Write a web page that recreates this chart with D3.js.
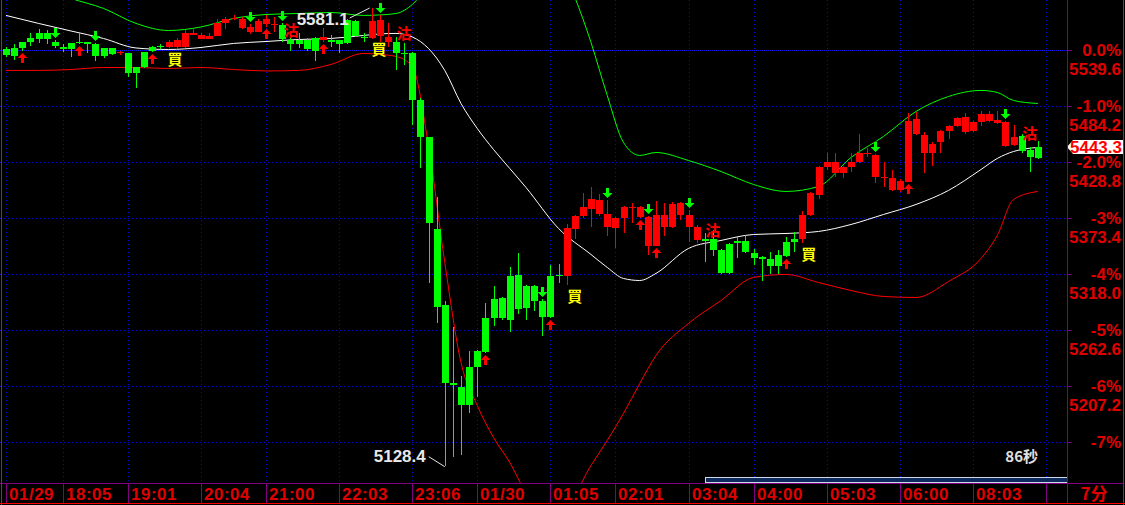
<!DOCTYPE html>
<html lang="zh">
<head>
  <meta charset="UTF-8">
  <title>7分K线</title>
  <style>
    body{margin:0;background:#000;}
    svg{display:block;background:#000;}
    text{font-family:"Liberation Sans",Arial,sans-serif;font-weight:bold;}
    .cjk{font-family:"Noto Sans CJK SC","Liberation Sans",sans-serif;font-weight:bold;}
  </style>
</head>
<body>
<svg width="1125" height="505"></svg>

<script src="https://cdn.jsdelivr.net/npm/d3@7/dist/d3.min.js"></script>
<script>
  // 基准价和最新价
  var basePrice = 5539.6;
  var lastPrice = 5443.3;
  var remainText = "86秒";
  var periodText = "7分";

  // K线数据 (开 高 低 收)
  var opens = [5540.1,5541.1,5547.1,5551.0,5556.0,5556.0,5548.0,5542.1,5546.1,5548.0,
    5548.0,5545.1,5541.1,5541.1,5536.2,5536.2,5522.3,5537.2,5542.1,5543.1,
    5542.1,5542.1,5542.1,5554.0,5550.0,5550.0,5553.0,5565.9,5569.8,5560.9,
    5557.9,5557.9,5564.9,5563.9,5563.9,5549.0,5549.0,5549.0,5551.0,5549.0,
    5549.0,5549.0,5568.8,5567.8,5552.0,5551.0,5553.0,5547.1,5547.1,5536.2,
    5536.2,5489.7,5453.1,5362.1,5286.9,5209.7,5205.8,5225.6,5241.4,5274.0,
    5292.8,5293.8,5315.6,5316.6,5305.7,5305.7,5291.8,5315.6,5316.6,5315.6,
    5362.1,5374.9,5382.8,5376.9,5365.0,5363.1,5373.0,5382.9,5374.0,5346.2,
    5346.2,5365.0,5364.1,5375.9,5364.1,5351.2,5352.2,5352.2,5341.3,5347.2,
    5350.2,5350.2,5338.3,5334.4,5332.4,5336.4,5349.2,5352.2,5352.2,5375.9,
    5395.7,5423.4,5417.5,5417.5,5423.4,5428.4,5436.3,5413.5,5412.5,5400.7,
    5400.7,5409.5,5457.0,5437.3,5437.3,5448.1,5459.0,5464.0,5458.0,5459.0,
    5467.9,5468.9,5466.9,5444.2,5445.2,5454.1,5440.2,5443.3];
  var highs = [5542.1,5545.1,5548.0,5556.0,5559.9,5558.9,5549.0,5545.1,5546.1,5556.0,
    5548.0,5546.1,5541.1,5541.1,5539.1,5536.2,5522.3,5537.2,5543.1,5545.1,
    5549.0,5551.0,5558.9,5559.9,5556.0,5556.0,5569.8,5571.8,5573.8,5571.8,
    5564.9,5569.8,5573.8,5571.8,5565.9,5553.0,5556.0,5551.0,5552.0,5560.9,
    5554.0,5549.0,5569.8,5568.8,5556.0,5581.1,5574.7,5566.8,5552.0,5546.1,
    5537.2,5491.7,5453.1,5393.7,5291.8,5265.1,5216.7,5241.4,5242.4,5288.9,
    5305.7,5294.8,5324.5,5338.3,5306.7,5306.7,5292.8,5326.5,5327.5,5367.0,
    5375.9,5397.7,5403.6,5396.7,5390.8,5374.0,5384.8,5387.8,5384.8,5375.0,
    5389.8,5387.8,5388.8,5388.8,5380.9,5366.0,5358.1,5361.1,5342.3,5348.2,
    5356.1,5356.1,5342.3,5335.4,5339.3,5341.3,5354.2,5359.1,5379.9,5398.7,
    5424.4,5438.2,5438.2,5424.4,5437.3,5457.0,5442.2,5436.3,5428.4,5420.4,
    5411.5,5476.8,5477.8,5458.0,5448.1,5460.0,5465.0,5472.9,5476.8,5468.9,
    5478.8,5478.8,5478.8,5468.9,5465.9,5457.0,5443.2,5449.1];
  var lows = [5532.2,5530.2,5539.1,5543.1,5546.1,5545.1,5541.1,5537.2,5532.2,5545.1,
    5536.2,5528.3,5531.2,5534.2,5534.2,5512.4,5501.6,5521.3,5537.2,5540.1,
    5541.1,5540.1,5541.1,5554.0,5550.0,5550.0,5553.0,5559.9,5568.8,5559.9,
    5555.0,5557.9,5561.9,5557.9,5547.1,5538.2,5541.1,5539.1,5528.3,5547.1,
    5542.1,5536.2,5545.1,5552.0,5547.1,5550.0,5547.1,5542.1,5519.4,5524.3,
    5465.0,5422.4,5309.6,5269.1,5128.4,5136.5,5138.5,5180.1,5195.9,5239.4,
    5266.1,5273.0,5260.2,5278.0,5273.0,5281.0,5256.2,5274.0,5308.7,5306.7,
    5352.2,5373.9,5364.1,5374.9,5356.1,5343.3,5358.1,5368.0,5373.0,5336.4,
    5345.3,5356.1,5363.1,5371.0,5349.2,5348.2,5329.4,5335.4,5317.6,5317.6,
    5333.4,5338.3,5326.5,5310.6,5317.6,5317.6,5334.4,5339.3,5348.2,5374.9,
    5392.7,5420.4,5413.5,5412.5,5418.5,5427.4,5433.3,5407.6,5403.6,5399.7,
    5398.7,5408.6,5456.0,5417.5,5424.4,5437.3,5451.1,5463.0,5457.0,5458.0,
    5464.0,5467.9,5466.0,5443.2,5444.2,5438.2,5418.5,5431.3];
  var closes = [5534.2,5533.2,5541.1,5547.1,5550.0,5550.0,5543.1,5540.1,5540.1,5546.1,
    5545.1,5533.2,5533.2,5535.2,5537.2,5516.4,5516.4,5522.3,5539.1,5542.1,
    5548.0,5549.0,5556.0,5556.0,5554.0,5553.0,5565.9,5569.8,5570.8,5569.8,
    5561.9,5567.8,5569.8,5564.9,5550.0,5545.1,5545.1,5540.1,5539.1,5552.0,
    5548.0,5545.1,5546.1,5553.0,5551.0,5567.8,5568.8,5552.0,5536.2,5535.2,
    5489.7,5453.1,5368.0,5284.9,5209.7,5207.8,5188.0,5188.0,5225.6,5240.4,
    5274.0,5274.0,5273.0,5282.9,5283.9,5291.8,5275.0,5275.0,5315.6,5363.1,
    5374.9,5383.8,5392.7,5390.8,5376.9,5373.0,5383.8,5383.8,5383.8,5374.0,
    5375.9,5375.9,5386.8,5387.8,5375.9,5365.0,5350.2,5341.3,5318.6,5318.6,
    5348.2,5339.3,5333.4,5332.4,5325.5,5325.5,5335.4,5349.2,5375.9,5397.7,
    5423.4,5428.4,5428.4,5423.4,5428.4,5438.2,5437.3,5435.3,5413.5,5412.5,
    5410.5,5468.9,5470.9,5455.1,5447.1,5459.0,5464.0,5471.9,5472.9,5467.9,
    5475.8,5475.8,5469.9,5467.9,5453.1,5439.2,5433.3,5432.3];

  // 布林带 (取样的K线序号)
  var bandIdx = [0,4,8,12,16,20,24,28,32,36,40,44,46,48,50,52,54,56,58,60,62,64,68,
    72,74,76,78,80,84,88,92,96,100,104,108,112,116,120,122,124,127];
  var upperBand = [5613.3,5602.4,5590.6,5580.7,5565.9,5558.9,5562.4,5570.8,5574.7,5575.7,
    5576.7,5573.8,5574.3,5575.7,5584.6,5603.4,5628.2,5657.8,5687.5,5707.3,5717.2,5712.3,
    5633.1,5547.1,5494.6,5448.1,5435.3,5438.2,5430.3,5419.4,5406.6,5399.7,5404.6,5433.3,
    5454.1,5478.8,5493.6,5499.6,5497.6,5489.7,5486.7];
  var midBand = [5573.8,5565.9,5558.4,5551.0,5541.6,5540.1,5542.1,5546.1,5548.0,5550.0,
    5551.0,5554.0,5555.5,5556.0,5552.5,5541.1,5519.4,5486.7,5462.0,5441.2,5422.4,5403.6,
    5363.1,5337.3,5324.5,5313.6,5311.6,5318.6,5343.3,5351.2,5357.1,5358.1,5360.1,5367.0,
    5376.9,5386.8,5400.7,5421.4,5432.3,5439.2,5443.2];
  var lowerBand = [5519.4,5519.4,5520.3,5522.3,5522.3,5521.3,5522.3,5520.3,5518.9,5519.4,
    5525.3,5536.2,5535.2,5533.2,5523.3,5445.2,5329.4,5230.5,5188.0,5156.3,5131.6,5101.9,
    5079.2,5128.6,5153.4,5180.1,5209.7,5237.4,5269.1,5291.8,5314.6,5317.6,5309.6,5301.7,
    5295.8,5294.8,5310.6,5333.4,5356.1,5391.7,5399.7];

  // 信号
  var upArrowIdx = [2,9,18,32,39,59,67,78,80,96,111];
  var downArrowIdx = [6,11,30,34,46,66,74,79,84,107,123];
  var buyIdx = [20.8,45.9,70.0,98.8];
  var buyPrice = [5530.2,5540.1,5295.8,5337.3];
  var sellIdx = [35.1,49.0,87.0,126.0];
  var sellPrice = [5558.9,5556.0,5361.1,5457.0];

  // 坐标轴
  var tickIdx = [0,7,15,24,32,41,50,58,67,75,84,92,101,110,119,128];
  var tickLabels = ["01/29","18:05","19:01","20:04","21:00","22:03","23:06","01/30",
    "01:05","02:01","03:04","04:00","05:03","06:00","08:03",""];
  var pctLevels = [0,-1,-2,-3,-4,-5,-6,-7];
  var pctLabels = ["0.0%","-1.0%","-2.0%","-3%","-4%","-5%","-6%","-7%"];
  var priceLabels = ["5539.6","5484.2","5428.8","5373.4","5318.0","5262.6","5207.2",""];

  var svg = d3.select('svg');
  var plotRight = 1067, plotBottom = 483;
  var RED = '#ff0000', GREEN = '#00ff00', AXIS = '#e00000', PURPLE = '#800080', BLUE = '#0a0ad8';

  var x = d3.scaleLinear().domain([0, 128]).range([6, 1046]);
  var y = d3.scaleLinear().domain([basePrice, basePrice * 0.93]).range([50, 442]);
  function px(i) { return Math.round(x(i)); }
  function py(v) { return Math.round(y(v)); }

  svg.append('defs').append('clipPath').attr('id', 'plot')
    .append('rect').attr('x', 0).attr('y', 0).attr('width', plotRight).attr('height', plotBottom);

  //网格
  var grid = svg.append('g').attr('shape-rendering', 'crispEdges');
  pctLevels.forEach(function (p) {
    var yy = py(basePrice * (1 + p / 100)) + 0.5;
    grid.append('line').attr('x1', 0).attr('x2', plotRight).attr('y1', yy).attr('y2', yy)
      .attr('stroke', p === 0 ? '#1414f0' : BLUE).attr('stroke-dasharray', p === 0 ? '1,1' : '1,3');
    grid.append('line').attr('x1', plotRight).attr('x2', plotRight + 5).attr('y1', yy).attr('y2', yy)
      .attr('stroke', PURPLE);
  });
  tickIdx.forEach(function (t) {
    var xx = px(t) + 0.5;
    grid.append('line').attr('x1', xx).attr('x2', xx).attr('y1', 0).attr('y2', plotBottom)
      .attr('stroke', BLUE).attr('stroke-dasharray', '1,3');
    grid.append('line').attr('x1', xx).attr('x2', xx).attr('y1', plotBottom).attr('y2', 503)
      .attr('stroke', PURPLE);
  });

  var plot = svg.append('g').attr('clip-path', 'url(#plot)');

  //布林带
  var bandLine = function (vals) {
    return d3.line().x(function (d, k) { return x(bandIdx[k]); })
      .y(function (d) { return y(d); }).curve(d3.curveMonotoneX)(vals);
  };
  plot.append('path').attr('d', bandLine(upperBand)).attr('fill', 'none').attr('stroke', GREEN).attr('stroke-width', 1);
  plot.append('path').attr('d', bandLine(lowerBand)).attr('fill', 'none').attr('stroke', RED).attr('stroke-width', 1);
  plot.append('path').attr('d', bandLine(midBand)).attr('fill', 'none').attr('stroke', '#ffffff').attr('stroke-width', 1);

  //K线
  var candles = plot.append('g').attr('shape-rendering', 'crispEdges');
  opens.forEach(function (o, i) {
    var c = closes[i], col = c > o ? RED : GREEN;
    var cx = px(i);
    candles.append('rect').attr('x', cx).attr('width', 1)
      .attr('y', py(highs[i])).attr('height', Math.max(1, py(lows[i]) - py(highs[i])))
      .attr('fill', col);
    var top = py(Math.max(o, c)), bot = py(Math.min(o, c));
    candles.append('rect').attr('x', cx - 3).attr('width', 7)
      .attr('y', top).attr('height', Math.max(1, bot - top)).attr('fill', col);
  });

  //箭头
  var arrowUp = 'M0,0L5,5L1.5,5L1.5,10L-1.5,10L-1.5,5L-5,5Z';
  upArrowIdx.forEach(function (i) {
    plot.append('path').attr('d', arrowUp).attr('fill', RED)
      .attr('transform', 'translate(' + (px(i) + 0.5) + ',' + (py(lows[i]) + 2) + ')');
  });
  downArrowIdx.forEach(function (i) {
    plot.append('path').attr('d', arrowUp).attr('fill', GREEN)
      .attr('transform', 'translate(' + (px(i) + 0.5) + ',' + (py(highs[i]) - 2) + ') scale(1,-1)');
  });

  //买 沽
  buyIdx.forEach(function (b, k) {
    plot.append('text').attr('class', 'cjk').attr('x', x(b)).attr('y', y(buyPrice[k])).attr('dy', '0.36em')
      .attr('text-anchor', 'middle').attr('font-size', 15).attr('fill', '#ffff00').text('買');
  });
  sellIdx.forEach(function (s, k) {
    plot.append('text').attr('class', 'cjk').attr('x', x(s)).attr('y', y(sellPrice[k])).attr('dy', '0.36em')
      .attr('text-anchor', 'middle').attr('font-size', 15).attr('fill', RED).text('沽');
  });

  //最高 最低
  var hi = d3.maxIndex(highs), lo = d3.minIndex(lows);
  var hx = x(hi), hy = y(highs[hi]), lx = x(lo), ly = y(lows[lo]);
  plot.append('line').attr('x1', hx - 2).attr('y1', hy).attr('x2', hx - 22).attr('y2', hy + 10)
    .attr('stroke', '#e8e8e8');
  plot.append('text').attr('x', hx - 23).attr('y', hy + 11).attr('dy', '0.36em').attr('text-anchor', 'end')
    .attr('font-size', 17).attr('fill', '#e8e8e8').text(d3.format('.1f')(highs[hi]));
  plot.append('line').attr('x1', lx).attr('y1', ly + 1).attr('x2', lx - 16).attr('y2', ly - 9)
    .attr('stroke', '#e8e8e8');
  plot.append('text').attr('x', lx - 19).attr('y', ly - 10).attr('dy', '0.36em').attr('text-anchor', 'end')
    .attr('font-size', 17).attr('fill', '#e8e8e8').text(d3.format('.1f')(lows[lo]));

  //滚动条
  svg.append('rect').attr('x', 705.5).attr('y', 477.5).attr('width', plotRight - 705).attr('height', 5)
    .attr('fill', '#0c2a5c').attr('stroke', '#d0d8e8');
  svg.append('text').attr('class', 'cjk').attr('x', 1038).attr('y', 457).attr('dy', '0.36em')
    .attr('text-anchor', 'end').attr('font-size', 15).attr('fill', '#e0e0e0').text(remainText);

  //右轴
  var right = svg.append('g');
  pctLevels.forEach(function (p, k) {
    var yy = py(basePrice * (1 + p / 100));
    right.append('text').attr('x', 1121).attr('y', yy).attr('dy', '0.36em').attr('text-anchor', 'end')
      .attr('font-size', 17).attr('fill', AXIS).text(pctLabels[k]);
    right.append('text').attr('x', 1121).attr('y', yy + 19).attr('dy', '0.36em').attr('text-anchor', 'end')
      .attr('font-size', 17).attr('fill', AXIS).text(priceLabels[k]);
  });
  var ly2 = py(lastPrice);
  right.append('path')
    .attr('d', 'M1067,' + ly2 + 'L1073,' + (ly2 - 7) + 'L1123,' + (ly2 - 7) + 'L1123,' + (ly2 + 7) + 'L1073,' + (ly2 + 7) + 'Z')
    .attr('fill', '#ffffff');
  right.append('text').attr('x', 1122).attr('y', ly2).attr('dy', '0.36em').attr('text-anchor', 'end')
    .attr('font-size', 17).attr('fill', RED).text(d3.format('.1f')(lastPrice));

  //底轴
  tickIdx.forEach(function (t, k) {
    svg.append('text').attr('x', px(t) + 3).attr('y', 500).attr('font-size', 17)
      .attr('letter-spacing', 0.5).attr('fill', AXIS).text(tickLabels[k]);
  });
  svg.append('text').attr('class', 'cjk').attr('x', 1094).attr('y', 500).attr('text-anchor', 'middle')
    .attr('font-size', 17).attr('fill', AXIS).text(periodText);

  //边框
  var frame = svg.append('g').attr('shape-rendering', 'crispEdges');
  frame.append('line').attr('x1', 0).attr('x2', 1123).attr('y1', 483.5).attr('y2', 483.5).attr('stroke', PURPLE);
  frame.append('line').attr('x1', 1067.5).attr('x2', 1067.5).attr('y1', 0).attr('y2', 504).attr('stroke', PURPLE);
  frame.append('line').attr('x1', 1.5).attr('x2', 1.5).attr('y1', 0).attr('y2', 505).attr('stroke', RED);
  frame.append('line').attr('x1', 1123.5).attr('x2', 1123.5).attr('y1', 0).attr('y2', 505).attr('stroke', RED);
  frame.append('line').attr('x1', 0).attr('x2', 1125).attr('y1', 503.5).attr('y2', 503.5).attr('stroke', RED);
</script>
</body>
</html>
